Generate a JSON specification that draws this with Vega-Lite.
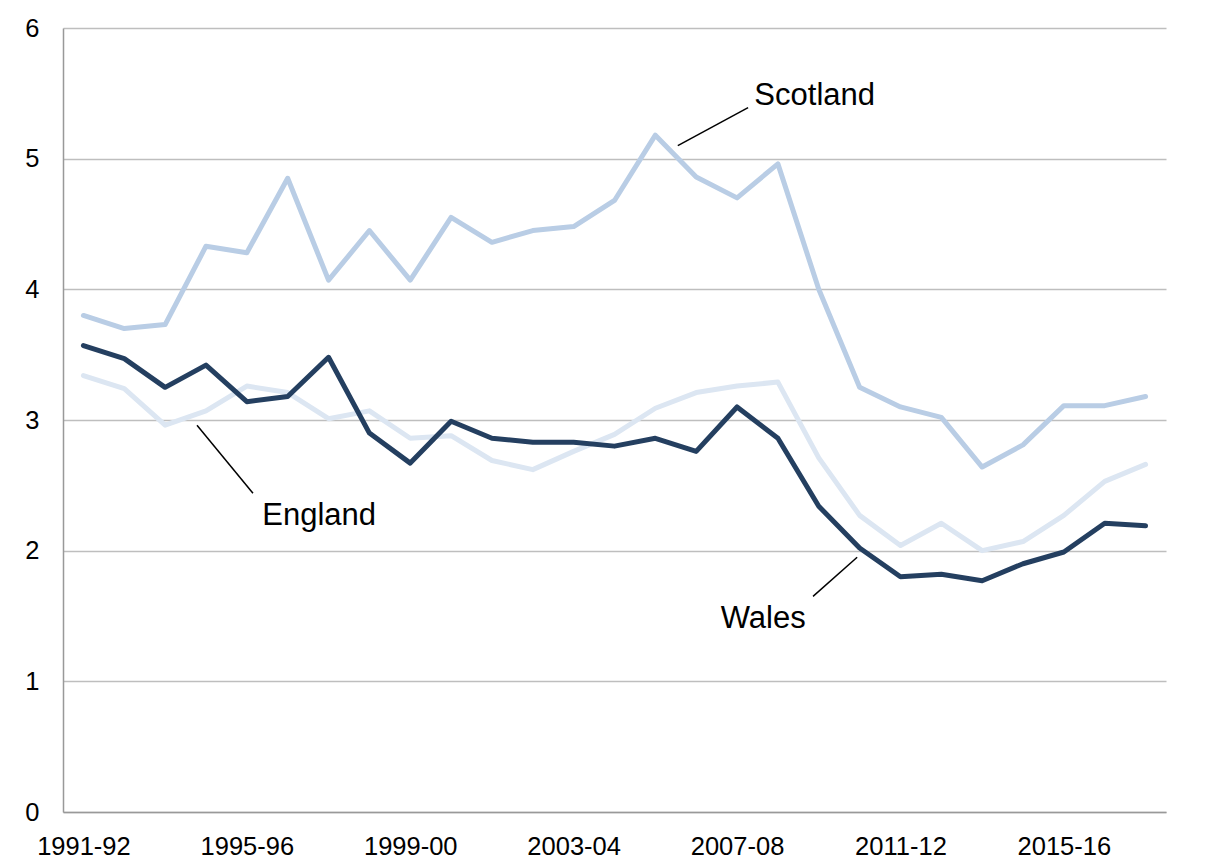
{
  "$schema": "https://vega.github.io/schema/vega-lite/v6.json",
  "width": 1103,
  "height": 784,
  "autosize": {"type": "none"},
  "padding": {"left": 63, "top": 28, "right": 39, "bottom": 46},
  "background": "white",
  "config": {"view": {"stroke": null}},
  "datasets": {
    "series": [
      {"country":"Scotland","year":1991,"period":"1991-92","value":3.80},
      {"country":"Scotland","year":1992,"period":"1992-93","value":3.70},
      {"country":"Scotland","year":1993,"period":"1993-94","value":3.73},
      {"country":"Scotland","year":1994,"period":"1994-95","value":4.33},
      {"country":"Scotland","year":1995,"period":"1995-96","value":4.28},
      {"country":"Scotland","year":1996,"period":"1996-97","value":4.85},
      {"country":"Scotland","year":1997,"period":"1997-98","value":4.07},
      {"country":"Scotland","year":1998,"period":"1998-99","value":4.45},
      {"country":"Scotland","year":1999,"period":"1999-00","value":4.07},
      {"country":"Scotland","year":2000,"period":"2000-01","value":4.55},
      {"country":"Scotland","year":2001,"period":"2001-02","value":4.36},
      {"country":"Scotland","year":2002,"period":"2002-03","value":4.45},
      {"country":"Scotland","year":2003,"period":"2003-04","value":4.48},
      {"country":"Scotland","year":2004,"period":"2004-05","value":4.68},
      {"country":"Scotland","year":2005,"period":"2005-06","value":5.18},
      {"country":"Scotland","year":2006,"period":"2006-07","value":4.86},
      {"country":"Scotland","year":2007,"period":"2007-08","value":4.70},
      {"country":"Scotland","year":2008,"period":"2008-09","value":4.96},
      {"country":"Scotland","year":2009,"period":"2009-10","value":4.00},
      {"country":"Scotland","year":2010,"period":"2010-11","value":3.25},
      {"country":"Scotland","year":2011,"period":"2011-12","value":3.10},
      {"country":"Scotland","year":2012,"period":"2012-13","value":3.02},
      {"country":"Scotland","year":2013,"period":"2013-14","value":2.64},
      {"country":"Scotland","year":2014,"period":"2014-15","value":2.81},
      {"country":"Scotland","year":2015,"period":"2015-16","value":3.11},
      {"country":"Scotland","year":2016,"period":"2016-17","value":3.11},
      {"country":"Scotland","year":2017,"period":"2017-18","value":3.18},
      {"country":"England","year":1991,"period":"1991-92","value":3.34},
      {"country":"England","year":1992,"period":"1992-93","value":3.24},
      {"country":"England","year":1993,"period":"1993-94","value":2.96},
      {"country":"England","year":1994,"period":"1994-95","value":3.07},
      {"country":"England","year":1995,"period":"1995-96","value":3.26},
      {"country":"England","year":1996,"period":"1996-97","value":3.21},
      {"country":"England","year":1997,"period":"1997-98","value":3.01},
      {"country":"England","year":1998,"period":"1998-99","value":3.07},
      {"country":"England","year":1999,"period":"1999-00","value":2.86},
      {"country":"England","year":2000,"period":"2000-01","value":2.88},
      {"country":"England","year":2001,"period":"2001-02","value":2.69},
      {"country":"England","year":2002,"period":"2002-03","value":2.62},
      {"country":"England","year":2003,"period":"2003-04","value":2.76},
      {"country":"England","year":2004,"period":"2004-05","value":2.89},
      {"country":"England","year":2005,"period":"2005-06","value":3.09},
      {"country":"England","year":2006,"period":"2006-07","value":3.21},
      {"country":"England","year":2007,"period":"2007-08","value":3.26},
      {"country":"England","year":2008,"period":"2008-09","value":3.29},
      {"country":"England","year":2009,"period":"2009-10","value":2.71},
      {"country":"England","year":2010,"period":"2010-11","value":2.27},
      {"country":"England","year":2011,"period":"2011-12","value":2.04},
      {"country":"England","year":2012,"period":"2012-13","value":2.21},
      {"country":"England","year":2013,"period":"2013-14","value":2.00},
      {"country":"England","year":2014,"period":"2014-15","value":2.07},
      {"country":"England","year":2015,"period":"2015-16","value":2.27},
      {"country":"England","year":2016,"period":"2016-17","value":2.53},
      {"country":"England","year":2017,"period":"2017-18","value":2.66},
      {"country":"Wales","year":1991,"period":"1991-92","value":3.57},
      {"country":"Wales","year":1992,"period":"1992-93","value":3.47},
      {"country":"Wales","year":1993,"period":"1993-94","value":3.25},
      {"country":"Wales","year":1994,"period":"1994-95","value":3.42},
      {"country":"Wales","year":1995,"period":"1995-96","value":3.14},
      {"country":"Wales","year":1996,"period":"1996-97","value":3.18},
      {"country":"Wales","year":1997,"period":"1997-98","value":3.48},
      {"country":"Wales","year":1998,"period":"1998-99","value":2.90},
      {"country":"Wales","year":1999,"period":"1999-00","value":2.67},
      {"country":"Wales","year":2000,"period":"2000-01","value":2.99},
      {"country":"Wales","year":2001,"period":"2001-02","value":2.86},
      {"country":"Wales","year":2002,"period":"2002-03","value":2.83},
      {"country":"Wales","year":2003,"period":"2003-04","value":2.83},
      {"country":"Wales","year":2004,"period":"2004-05","value":2.80},
      {"country":"Wales","year":2005,"period":"2005-06","value":2.86},
      {"country":"Wales","year":2006,"period":"2006-07","value":2.76},
      {"country":"Wales","year":2007,"period":"2007-08","value":3.10},
      {"country":"Wales","year":2008,"period":"2008-09","value":2.86},
      {"country":"Wales","year":2009,"period":"2009-10","value":2.34},
      {"country":"Wales","year":2010,"period":"2010-11","value":2.02},
      {"country":"Wales","year":2011,"period":"2011-12","value":1.80},
      {"country":"Wales","year":2012,"period":"2012-13","value":1.82},
      {"country":"Wales","year":2013,"period":"2013-14","value":1.77},
      {"country":"Wales","year":2014,"period":"2014-15","value":1.90},
      {"country":"Wales","year":2015,"period":"2015-16","value":1.99},
      {"country":"Wales","year":2016,"period":"2016-17","value":2.21},
      {"country":"Wales","year":2017,"period":"2017-18","value":2.19}
    ],
    "leaders": [
      {"label":"Scotland","year":2005.55,"value":5.10,"year2":2007.27,"value2":5.39},
      {"label":"England","year":1993.78,"value":2.96,"year2":1995.15,"value2":2.44},
      {"label":"Wales","year":2009.94,"value":1.95,"year2":2008.86,"value2":1.65}
    ],
    "labels": [
      {"label":"Scotland","year":2008.90,"value":5.41},
      {"label":"England","year":1996.77,"value":2.20},
      {"label":"Wales","year":2007.64,"value":1.41}
    ]
  },
  "layer": [
    {
      "data": {"name": "series"},
      "mark": {"type": "line", "strokeWidth": 5, "strokeCap": "round", "strokeJoin": "round"},
      "encoding": {
        "x": {
          "field": "year", "type": "quantitative",
          "scale": {"domain": [1990.5, 2017.5], "nice": false, "zero": false},
          "axis": {
            "title": null,
            "values": [1991, 1995, 1999, 2003, 2007, 2011, 2015],
            "labelExpr": "datum.value + '-' + slice('0' + ((datum.value + 1) % 100), -2)",
            "grid": false, "ticks": false, "tickSize": 0,
            "domain": true, "domainColor": "#999999", "domainWidth": 1.5,
            "labelFont": "Liberation Sans", "labelFontSize": 25.5, "labelColor": "#000000",
            "labelPadding": 22, "labelFlush": false, "labelOverlap": false
          }
        },
        "y": {
          "field": "value", "type": "quantitative",
          "scale": {"domain": [0, 6], "nice": false},
          "axis": {
            "title": null,
            "values": [0, 1, 2, 3, 4, 5, 6],
            "format": "d",
            "grid": true, "gridColor": "#BEBEBE", "gridWidth": 1.5,
            "ticks": false, "tickSize": 0,
            "domain": true, "domainColor": "#999999", "domainWidth": 1.5,
            "labelFont": "Liberation Sans", "labelFontSize": 25.5, "labelColor": "#000000",
            "labelPadding": 24, "labelFlush": false, "labelOverlap": false
          }
        },
        "color": {
          "field": "country", "type": "nominal",
          "scale": {"domain": ["Scotland", "England", "Wales"], "range": ["#B9CDE5", "#DCE6F2", "#243F60"]},
          "legend": null
        }
      }
    },
    {
      "data": {"name": "leaders"},
      "mark": {"type": "rule", "color": "#000000", "strokeWidth": 1.5},
      "encoding": {
        "x": {"field": "year", "type": "quantitative"},
        "x2": {"field": "year2"},
        "y": {"field": "value", "type": "quantitative"},
        "y2": {"field": "value2"}
      }
    },
    {
      "data": {"name": "labels"},
      "mark": {"type": "text", "font": "Liberation Sans", "fontSize": 31, "align": "center", "baseline": "alphabetic", "color": "#000000"},
      "encoding": {
        "x": {"field": "year", "type": "quantitative"},
        "y": {"field": "value", "type": "quantitative"},
        "text": {"field": "label"}
      }
    }
  ]
}
